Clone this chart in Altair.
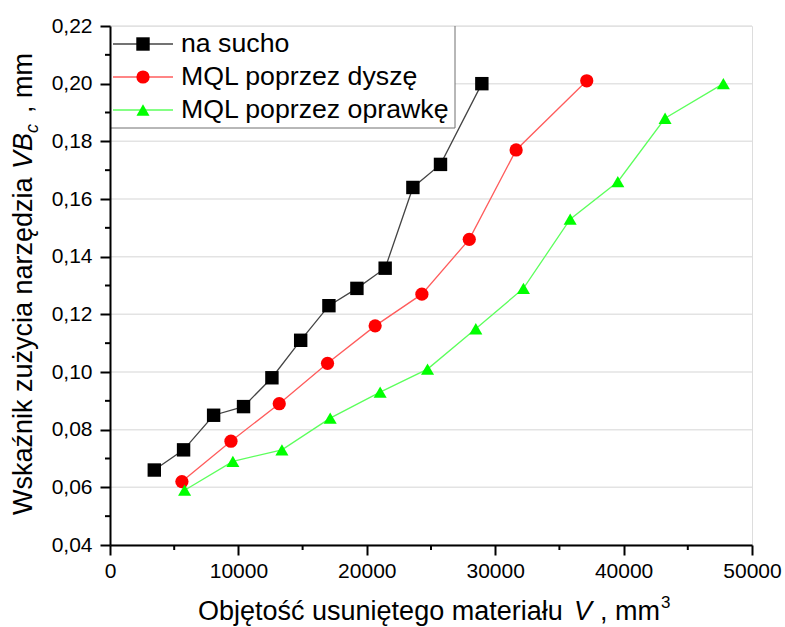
import altair as alt
import pandas as pd

FONT = "Liberation Sans"

# Tool wear VB_c versus removed material volume V for three cooling strategies
series_names = ["na sucho", "MQL poprzez dyszę", "MQL poprzez oprawkę"]

v_dry = [3450, 5730, 8070, 10400, 12610, 14850, 17050, 19230, 21430, 23590, 25740, 28960]
vb_dry = [0.066, 0.073, 0.085, 0.088, 0.098, 0.111, 0.123, 0.129, 0.136, 0.164, 0.172, 0.200]

v_nozzle = [5600, 9420, 13180, 16940, 20650, 24290, 27980, 31630, 37130]
vb_nozzle = [0.062, 0.076, 0.089, 0.103, 0.116, 0.127, 0.146, 0.177, 0.201]

v_holder = [5810, 9570, 13390, 17150, 21040, 24730, 28490, 32200, 35840, 39550, 43230, 47770]
vb_holder = [0.059, 0.069, 0.073, 0.084, 0.093, 0.101, 0.115, 0.129, 0.153, 0.166, 0.188, 0.200]

x_ticks = [0, 10000, 20000, 30000, 40000, 50000]
x_minor = [5000, 15000, 25000, 35000, 45000]
y_ticks = [0.04, 0.06, 0.08, 0.10, 0.12, 0.14, 0.16, 0.18, 0.20, 0.22]
y_minor = [0.05, 0.07, 0.09, 0.11, 0.13, 0.15, 0.17, 0.19, 0.21]

marker_colors = ["#000000", "#ff0000", "#00ff00"]
line_colors = ["#444444", "#ff5c5c", "#5cff5c"]
marker_shapes = ["square", "circle", "triangle-up"]
marker_sizes = [180, 170, 350]

W, H = 642, 519

frames = []
for name, vs, vbs in [(series_names[0], v_dry, vb_dry),
                      (series_names[1], v_nozzle, vb_nozzle),
                      (series_names[2], v_holder, vb_holder)]:
    frames.append(pd.DataFrame({"series": name, "V": vs, "VB": vbs}))
df = pd.concat(frames, ignore_index=True)
df["order"] = df.index

x_scale = alt.Scale(domain=[0, 50000], nice=False, zero=False)
y_scale = alt.Scale(domain=[0.04, 0.22], nice=False, zero=False)
stroke_scale = alt.Scale(domain=series_names, range=line_colors)
fill_scale = alt.Scale(domain=series_names, range=marker_colors)
shape_scale = alt.Scale(domain=series_names, range=marker_shapes)
size_scale = alt.Scale(domain=series_names, range=marker_sizes)

x_axis = alt.Axis(values=x_ticks, format="d", title=None, grid=False,
                  tickSize=10, tickWidth=2, tickColor="black",
                  domainColor="black", domainWidth=2, labelPadding=5,
                  labelFontSize=21, labelFont=FONT, labelColor="black",
                  labelFlush=False, zindex=1)
y_axis = alt.Axis(values=y_ticks, title=None, grid=False,
                  labelExpr="replace(format(datum.value, '.2f'), '.', ',')",
                  tickSize=10, tickWidth=2, tickColor="black",
                  domainColor="black", domainWidth=2, labelPadding=8,
                  labelFontSize=21, labelFont=FONT, labelColor="black",
                  labelFlush=False, zindex=1)

# the shared x encoding carries the same axis in every layer that uses it
x_enc = alt.X("V:Q", scale=x_scale, axis=x_axis)

# horizontal grid lines at the major y ticks
grid = alt.Chart(pd.DataFrame({"VB": y_ticks})).mark_rule(
    color="#e3e3e3", strokeWidth=1.5
).encode(
    y=alt.Y("VB:Q", scale=y_scale, axis=None),
    x=alt.value(0), x2=alt.value(W),
)

lines = alt.Chart(df).mark_line(strokeWidth=1.3).encode(
    x=x_enc,
    y=alt.Y("VB:Q", scale=y_scale, axis=y_axis),
    stroke=alt.Stroke("series:N", scale=stroke_scale, legend=None),
    order="order:Q",
)

points = alt.Chart(df).mark_point(filled=True, opacity=1, strokeOpacity=0).encode(
    x=x_enc,
    y=alt.Y("VB:Q", scale=y_scale, axis=None),
    fill=alt.Fill("series:N", scale=fill_scale, legend=None),
    shape=alt.Shape("series:N", scale=shape_scale, legend=None),
    size=alt.Size("series:N", scale=size_scale, legend=None),
)

# minor ticks on both axes
x_minor_ticks = alt.Chart(pd.DataFrame({"V": x_minor})).mark_rule(
    color="black", strokeWidth=2
).encode(
    x=x_enc,
    y=alt.value(H), y2=alt.value(H + 5),
)
y_minor_ticks = alt.Chart(pd.DataFrame({"VB": y_minor})).mark_rule(
    color="black", strokeWidth=2
).encode(
    y=alt.Y("VB:Q", scale=y_scale, axis=None),
    x=alt.value(0), x2=alt.value(-5),
)

# legend box in the upper-left corner of the plot
one_row = alt.Data(values=[{}])
leg_box = alt.Chart(one_row).mark_rect(fill="white").encode(
    x=alt.value(1), x2=alt.value(345), y=alt.value(1), y2=alt.value(102)
)
leg_right = alt.Chart(one_row).mark_rule(color="#707070", strokeWidth=1).encode(
    x=alt.value(345), y=alt.value(0), y2=alt.value(102)
)
leg_bottom = alt.Chart(one_row).mark_rule(color="#707070", strokeWidth=1).encode(
    x=alt.value(0), x2=alt.value(345), y=alt.value(102)
)

leg_df = pd.DataFrame({"series": series_names, "row": [0, 1, 2]})
row_y = alt.Y("row:Q", scale=alt.Scale(domain=[0, 2], range=[18, 84]), axis=None)

leg_lines = alt.Chart(leg_df).mark_rule(strokeWidth=1.3).encode(
    y=row_y, x=alt.value(3), x2=alt.value(63),
    stroke=alt.Stroke("series:N", scale=stroke_scale, legend=None),
)
leg_marks = alt.Chart(leg_df).mark_point(filled=True, opacity=1, strokeOpacity=0).encode(
    y=row_y, x=alt.value(33),
    fill=alt.Fill("series:N", scale=fill_scale, legend=None),
    shape=alt.Shape("series:N", scale=shape_scale, legend=None),
    size=alt.Size("series:N", scale=size_scale, legend=None),
)
leg_text = alt.Chart(leg_df).mark_text(
    align="left", baseline="middle", fontSize=26.7, font=FONT, color="black"
).encode(y=row_y, x=alt.value(71), text="series:N")


def title_piece(text, x, y, size, italic=False, angle=0):
    return alt.Chart(one_row).mark_text(
        text=text, font=FONT, fontSize=size,
        fontStyle="italic" if italic else "normal",
        align="left", baseline="alphabetic", angle=angle, color="black",
    ).encode(x=alt.value(x), y=alt.value(y))


# x-axis title: Objętość usuniętego materiału V , mm^3
x_title = [
    title_piece("Objętość usuniętego materiału", 88, 594, 27),
    title_piece("V", 464, 594, 27, italic=True),
    title_piece(", mm", 490, 594, 27),
    title_piece("3", 551, 582, 17),
]
# y-axis title: Wskaźnik zużycia narzędzia VB_c , mm (rotated)
y_title = [
    title_piece("Wskaźnik zużycia narzędzia", -78, 489, 27, angle=270),
    title_piece("VB", -78, 143, 27, italic=True, angle=270),
    title_piece("c", -72, 107, 18, italic=True, angle=270),
    title_piece(", mm", -78, 87, 27, angle=270),
]

chart = alt.layer(
    grid, lines, points, x_minor_ticks, y_minor_ticks,
    leg_box, leg_right, leg_bottom, leg_lines, leg_marks, leg_text,
    *x_title, *y_title,
).resolve_scale(
    y="independent"
).properties(
    width=W, height=H,
    autosize=alt.AutoSizeParams(type="none"),
    padding={"left": 110, "top": 26, "right": 33, "bottom": 82},
).configure_view(
    stroke="black", strokeWidth=2
).configure(
    background="white"
)

chart.save("out.html", embed_options={"renderer": "svg", "actions": False})
